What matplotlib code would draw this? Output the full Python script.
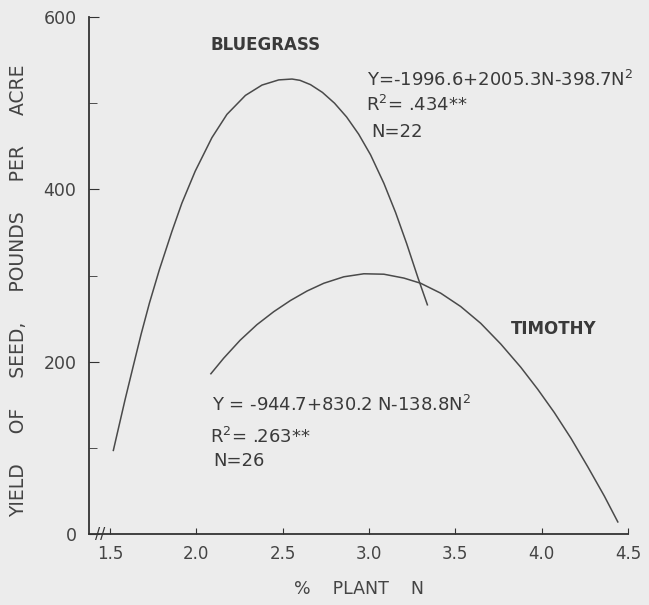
import matplotlib.pyplot as plt
from matplotlib.ticker import MultipleLocator

# points
bluegrass_n = [1.519, 1.542, 1.587, 1.632, 1.680, 1.728, 1.786, 1.858, 1.916,
               1.993, 2.090, 2.177, 2.284, 2.380, 2.477, 2.554, 2.600, 2.661,
               2.730, 2.800, 2.870, 2.940, 3.009, 3.086, 3.154, 3.218, 3.284,
               3.338]
bluegrass_y = [97, 117, 156, 193, 232, 268, 307, 351, 384,
               421, 460, 487, 509, 521, 527, 528, 526.5, 521.5,
               512.5, 500, 484, 464, 440, 407, 373, 337, 297,
               266]

timothy_n = [2.084, 2.158, 2.254, 2.351, 2.448, 2.545, 2.641, 2.738, 2.854,
             2.970, 3.086, 3.202, 3.299, 3.415, 3.531, 3.647, 3.763, 3.879,
             3.977, 4.073, 4.170, 4.267, 4.363, 4.441]
timothy_y = [186, 204, 225, 243, 258, 271, 282, 291, 298.5,
             302, 301.5, 297, 291, 279.5, 264, 244.5, 220.5, 193.5,
             168, 141, 111, 78, 44, 14]

x_ticks = [1.5, 2.0, 2.5, 3.0, 3.5, 4.0, 4.5]
x_labels = ["1.5", "2.0", "2.5", "3.0", "3.5", "4.0", "4.5"]
y_ticks = [0, 200, 400, 600]

bg = "#ececec"
ink = "#4a4a4a"
plt.rcParams["font.family"] = ["DejaVu Sans"]

fig = plt.figure(figsize=(6.49, 6.05), dpi=100, facecolor=bg)
ax = fig.add_axes([89 / 649, 71 / 605, 539 / 649, 517 / 605], facecolor=bg)

ax.plot(bluegrass_n, bluegrass_y, color=ink, lw=1.1, clip_on=False)
ax.plot(timothy_n, timothy_y, color=ink, lw=1.1, clip_on=False)

ax.set_xlim(1.378, 4.5)
ax.set_ylim(0, 600)
for side in ("top", "right"):
    ax.spines[side].set_visible(False)
for side in ("left", "bottom"):
    ax.spines[side].set_color("#333333")
    ax.spines[side].set_linewidth(1.3)

ax.set_xticks(x_ticks)
ax.set_xticklabels(x_labels)
ax.set_yticks(y_ticks)
ax.yaxis.set_minor_locator(MultipleLocator(100))
ax.tick_params(axis="both", which="both", direction="in", color="#333333",
               labelcolor="#444444", labelsize=12)
ax.tick_params(axis="y", which="major", length=7, pad=9, labelsize=12.5)
ax.tick_params(axis="y", which="minor", length=6)
ax.tick_params(axis="x", which="major", length=4, pad=8)

# axis break mark
ax.text(1.44, 0, "//", color="#333333", fontsize=11, ha="center", va="center",
        clip_on=False)

ax.set_xlabel("%    PLANT    N", color="#444444", fontsize=12.5, labelpad=12)
ax.set_ylabel("YIELD     OF     SEED,     POUNDS     PER     ACRE",
              color="#444444", fontsize=13.5)
ax.yaxis.set_label_coords(-0.113, 0.47)

txt = dict(color="#3a3a3a", fontsize=12, fontweight="bold", ha="left",
           va="center")
ax.text(2.08, 567, "BLUEGRASS", **txt)
ax.text(3.82, 238, "TIMOTHY", **txt)

eq = dict(color="#3a3a3a", fontsize=13, ha="left", va="center")
ax.text(2.99, 527, "Y=-1996.6+2005.3N-398.7N$^2$", **eq)
ax.text(2.98, 498, "R$^2$= .434**", **eq)
ax.text(3.01, 466, "N=22", **eq)
ax.text(2.09, 150, "Y = -944.7+830.2 N-138.8N$^2$", **eq)
ax.text(2.08, 113, "R$^2$= .263**", **eq)
ax.text(2.10, 85, "N=26", **eq)

fig.savefig("out.png", dpi=100, facecolor=bg)
